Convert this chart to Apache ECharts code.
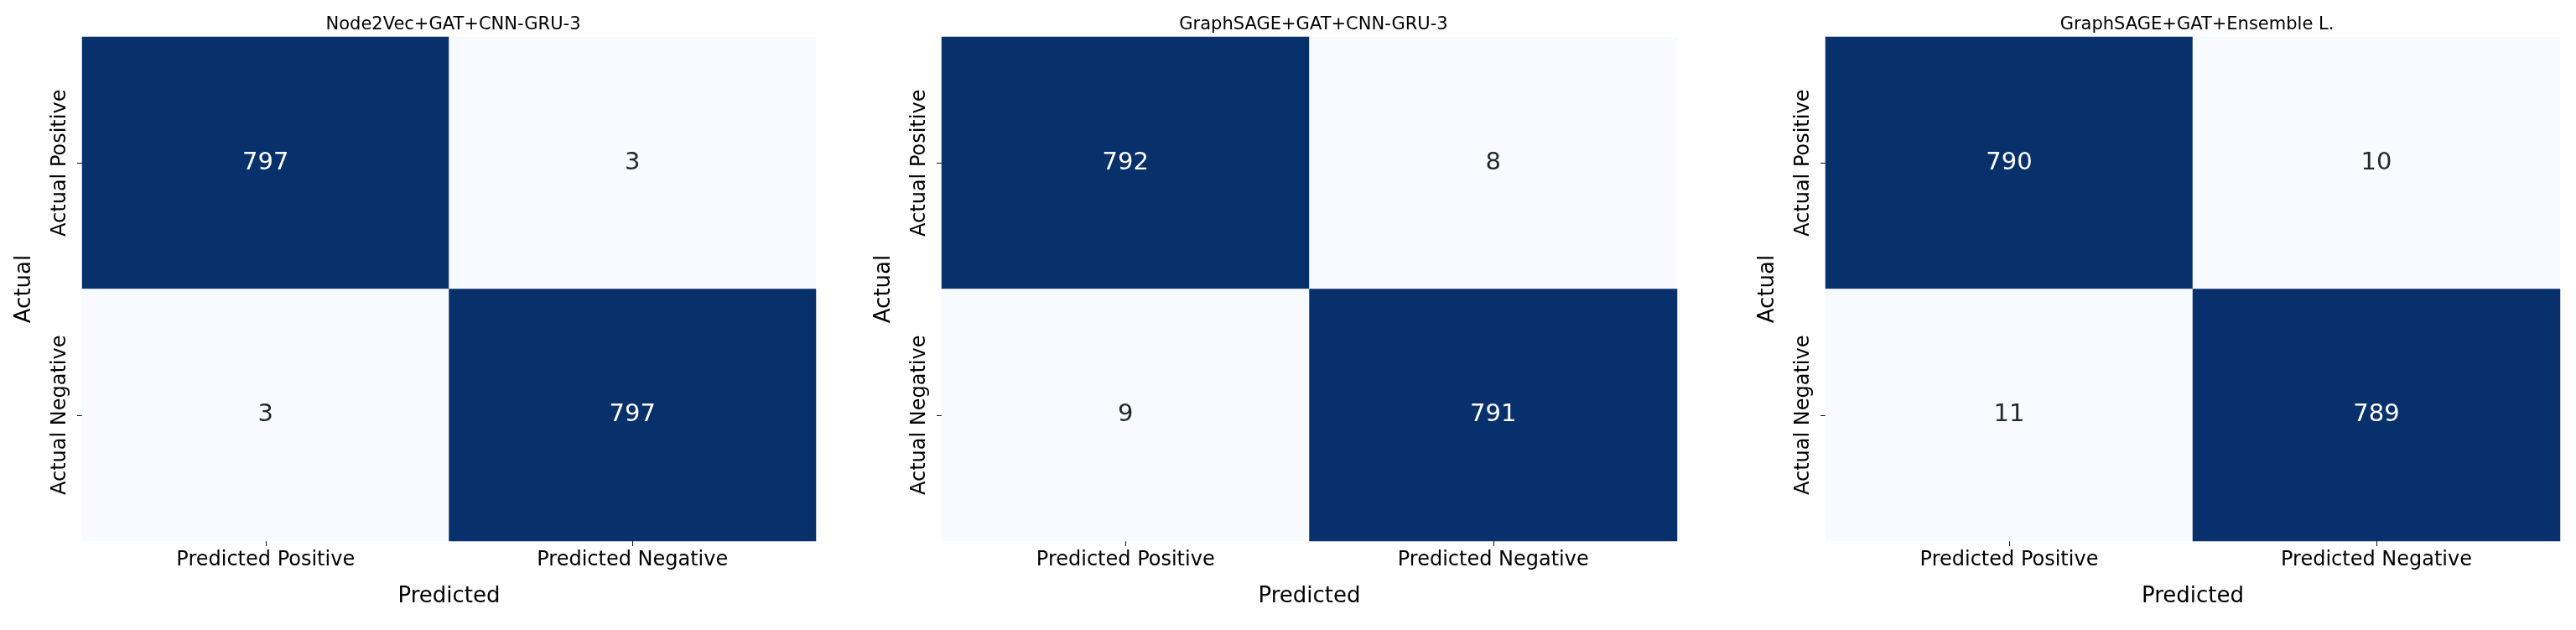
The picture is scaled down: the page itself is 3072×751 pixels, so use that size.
<!DOCTYPE html>
<html><head><meta charset="utf-8">
<script src="https://cdn.jsdelivr.net/npm/echarts@6/dist/echarts.min.js"></script>
<style>html,body{margin:0;padding:0;background:#fff}#c{width:3072px;height:751px}</style>
</head><body><div id="c"></div><script>
// ---- data ----
const panelTitles = ['Node2Vec+GAT+CNN-GRU-3', 'GraphSAGE+GAT+CNN-GRU-3', 'GraphSAGE+GAT+Ensemble L.'];
const xCategories = ['Predicted Positive', 'Predicted Negative'];
const yCategories = ['Actual Positive', 'Actual Negative'];
const xAxisTitle = 'Predicted';
const yAxisTitle = 'Actual';
// rows = actual (positive, negative); cols = predicted (positive, negative)
const matrixNode2Vec = [[797, 3], [3, 797]];
const matrixGraphSAGE = [[792, 8], [9, 791]];
const matrixEnsemble = [[790, 10], [11, 789]];
const matrices = [matrixNode2Vec, matrixGraphSAGE, matrixEnsemble];

// ---- layout / style ----
const FONT = 'DejaVu Sans';
const gridBoxes = [
  {left: 98, width: 875},
  {left: 1123, width: 877},
  {left: 2177, width: 876}
];
const TOP = 44, HEIGHT = 601;
const blues = ['#f7fbff','#deebf7','#c6dbef','#9ecae1','#6baed6','#4292c6','#2171b5','#08519c','#08306b'];

const chart = echarts.init(document.getElementById('c'), null, {renderer: 'canvas'});
const grid = [], xAxis = [], yAxis = [], series = [], visualMap = [], title = [];

matrices.forEach((m, i) => {
  const g = gridBoxes[i];
  grid.push({left: g.left, top: TOP, width: g.width, height: HEIGHT, containLabel: false});
  title.push({
    text: panelTitles[i], left: g.left + g.width / 2, top: 14, textAlign: 'center',
    textStyle: {fontFamily: FONT, fontSize: 21, fontWeight: 'normal', color: '#000'}
  });
  xAxis.push({
    type: 'category', gridIndex: i, data: xCategories, position: 'bottom',
    name: xAxisTitle, nameLocation: 'middle', nameGap: 53,
    nameTextStyle: {fontFamily: FONT, fontSize: 26, color: '#000'},
    axisLine: {show: false}, splitLine: {show: false}, splitArea: {show: false},
    axisTick: {show: true, alignWithLabel: true, length: 6, lineStyle: {color: '#111', width: 1}},
    axisLabel: {fontFamily: FONT, fontSize: 24, color: '#000', margin: 11}
  });
  yAxis.push({
    type: 'category', gridIndex: i, data: yCategories, inverse: true,
    name: yAxisTitle, nameLocation: 'middle', nameGap: 56, nameRotate: 90,
    nameTextStyle: {fontFamily: FONT, fontSize: 26, color: '#000'},
    axisLine: {show: false}, splitLine: {show: false}, splitArea: {show: false},
    axisTick: {show: true, alignWithLabel: true, length: 6, lineStyle: {color: '#111', width: 1}},
    axisLabel: {fontFamily: FONT, fontSize: 24, color: '#000', rotate: 90, margin: 14}
  });
  const flat = m.flat();
  const vmin = Math.min(...flat), vmax = Math.max(...flat);
  const data = [];
  m.forEach((row, r) => row.forEach((v, c) => {
    const t = (v - vmin) / (vmax - vmin);
    data.push({value: [c, r, v], label: {color: t > 0.5 ? '#ffffff' : '#262626'}});
  }));
  visualMap.push({
    type: 'continuous', show: false, seriesIndex: i, dimension: 2,
    min: vmin, max: vmax, inRange: {color: blues}
  });
  series.push({
    type: 'heatmap', xAxisIndex: i, yAxisIndex: i, data: data,
    label: {show: true, fontFamily: FONT, fontSize: 29, formatter: p => String(p.value[2])},
    itemStyle: {borderWidth: 0},
    emphasis: {disabled: true}
  });
});

chart.setOption({
  animation: false, backgroundColor: '#ffffff',
  title, grid, xAxis, yAxis, visualMap, series
});
</script></body></html>
